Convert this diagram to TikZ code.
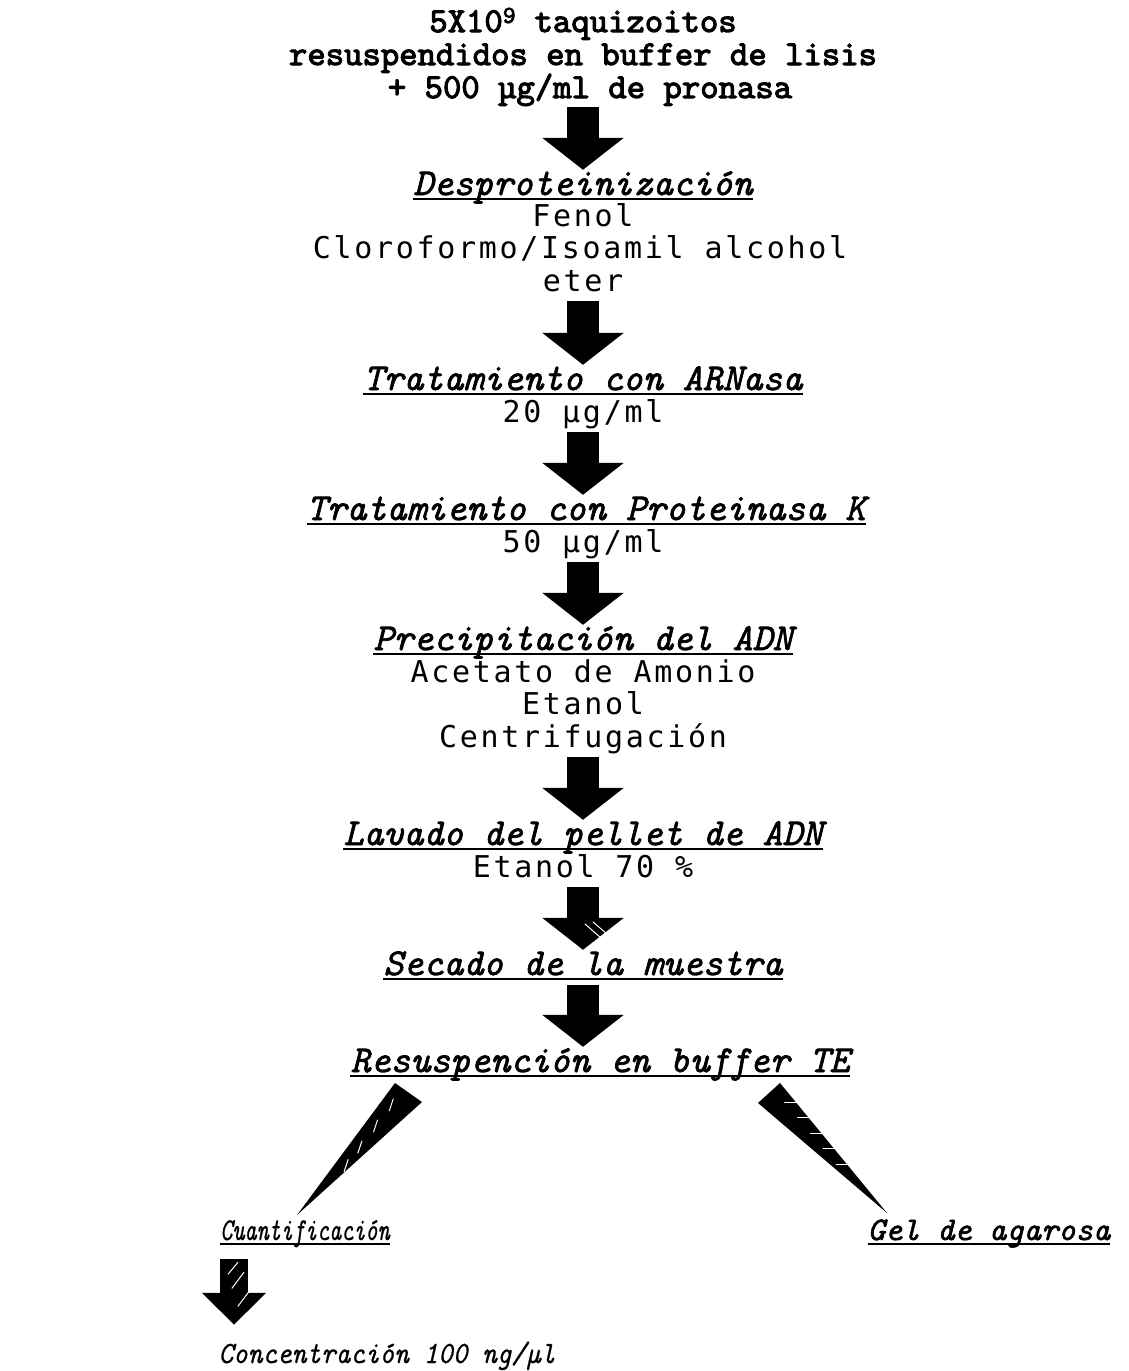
\documentclass[tikz,border=0pt]{standalone}
\usepackage{fontspec}
\usetikzlibrary{arrows.meta,calc}
\newfontfamily\titlefont{lmmono10-regular.otf}[FakeBold=3]
\newfontfamily\slabfont{lmmono10-italic.otf}[FakeBold=1.8]
\newfontfamily\slabthin{lmmono10-italic.otf}[FakeBold=0.6, FakeStretch=0.72]
\newfontfamily\slabital{lmmono10-italic.otf}[FakeBold=0.6, FakeStretch=0.9]
\newfontfamily\stepfont{DejaVu Sans Mono}[LetterSpace=9]
\tikzset{
  title/.style={font=\titlefont\fontsize{35}{40}\selectfont, inner sep=0pt, anchor=base, text height=22pt, text depth=7pt},
  heading/.style={font=\slabfont\fontsize{38}{44}\selectfont, inner sep=0pt, anchor=base, text height=24pt, text depth=8pt},
  detail/.style={font=\stepfont\fontsize{30}{36}\selectfont, inner sep=0pt, anchor=base, text height=22pt, text depth=8pt},
  branch/.style={font=\slabfont\fontsize{33}{36}\selectfont, inner sep=0pt, anchor=base, text height=20pt, text depth=7pt},
  thinbranch/.style={font=\slabthin\fontsize{32}{36}\selectfont, inner sep=0pt, anchor=base, text height=20pt, text depth=7pt},
  result/.style={font=\slabital\fontsize{31}{36}\selectfont, inner sep=0pt, anchor=base, text height=20pt, text depth=7pt},
  underline/.style={draw, line width=2.5pt},
  fat/.style={line width=32pt, -{Triangle[width=80pt,length=32pt]}, shorten <=2pt, shorten >=1pt},
  smallfat/.style={line width=28pt, -{Triangle[width=62pt,length=32pt]}, shorten <=12pt, shorten >=18pt},
  streak/.style={draw=white, line width=1pt, line cap=round},
  wedge/.style={fill=black}
}
\begin{document}
\begin{tikzpicture}[x=1pt,y=-1pt]
  \useasboundingbox (0,0) rectangle (1129,1371);

  % starting material
  \node[title] (cells) at (583,32) {5X10\textsuperscript{9} taquizoitos};
  \node[title] (lysis) at (583,65) {resuspendidos en buffer de lisis};
  \node[title] (pronase) at (590,98) {+ 500 µg/ml de pronasa};

  % main steps
  \node[heading] (desp) at (583,195) {Desproteinización};
  \node[detail] (fenol) at (583,226) {Fenol};
  \node[detail] (cloro) at (580,258) {Cloroformo/Isoamil alcohol};
  \node[detail] (eter) at (583,291) {eter};

  \node[heading] (rnase) at (583,390) {Tratamiento con ARNasa};
  \node[detail] (rnasedose) at (583,422) {20 µg/ml};

  \node[heading] (protk) at (586,520) {Tratamiento con Proteinasa K};
  \node[detail] (protkdose) at (583,552) {50 µg/ml};

  \node[heading] (prec) at (583,650) {Precipitación del ADN};
  \node[detail] (acet) at (583,682) {Acetato de Amonio};
  \node[detail] (etoh) at (583,714) {Etanol};
  \node[detail] (spin) at (583,747) {Centrifugación};

  \node[heading] (wash) at (583,845) {Lavado del pellet de ADN};
  \node[detail] (etoh70) at (583,877) {Etanol 70 \%};

  \node[heading] (dry) at (583,975) {Secado de la muestra};
  \node[heading] (resusp) at (600,1072) {Resuspención en buffer TE};

  % two branches
  \node[thinbranch] (quant) at (305,1240) {Cuantificación};
  \node[branch] (gel) at (989,1240) {Gel de agarosa};
  \node[result] (conc) at (387,1363) {Concentración 100 ng/µl};

  \foreach \n in {desp,rnase,protk,prec,wash,dry,resusp,quant,gel}
    \draw[underline] ([yshift=-4pt]\n.base west) -- ([yshift=-4pt]\n.base east);

  % block arrows
  \draw[fat] (pronase.south -| desp.south) -- (desp.north);
  \draw[fat] (eter.south) -- (rnase.north);
  \draw[fat] (rnasedose.south) -- (rnasedose.south |- protk.north);
  \draw[fat] (protkdose.south) -- (prec.north);
  \draw[fat] (spin.south) -- (wash.north);
  \draw[fat] (etoh70.south) -- (dry.north);
  \draw[fat] (dry.south) -- (dry.south |- resusp.north);
  \draw[smallfat] (quant.south -| 234,0) -- (conc.north -| 234,0);

  % hatching on the lower arrows
  \path (etoh70.south) -- (dry.north) coordinate[pos=.5] (m6);
  \draw[streak] ([shift={(2,6)}]m6) -- ++(16,14);
  \draw[streak] ([shift={(10,4)}]m6) -- ++(14,12);
  \path (quant.south -| 234,0) -- (conc.north -| 234,0) coordinate[pos=.45] (m8);
  \draw[streak] ([shift={(-6,-16)}]m8) -- ++(10,-12);
  \draw[streak] ([shift={(-2,-2)}]m8) -- ++(12,-16);
  \draw[streak] ([shift={(4,16)}]m8) -- ++(12,-16);

  % wedges to the branches
  \coordinate (wl1) at (395,1083);
  \coordinate (wl2) at (422,1102);
  \coordinate (wltip) at (297,1215);
  \coordinate (wr1) at (780,1083);
  \coordinate (wr2) at (758,1103);
  \coordinate (wrtip) at (887,1213);
  \fill[wedge] (wl1) -- (wl2) -- (wltip) -- cycle;
  \fill[wedge] (wr1) -- (wr2) -- (wrtip) -- cycle;
  \foreach \t in {.12,.28,.44,.58}
    \draw[streak] ($(wl1)!\t!(wltip)+(10,0)$) -- ++(-4,12);
  \foreach \t in {.1,.22,.34,.46,.58}
    \draw[streak] ($(wr1)!\t!(wrtip)+(-6,6)$) -- ++(14,0);
\end{tikzpicture}
\end{document}
